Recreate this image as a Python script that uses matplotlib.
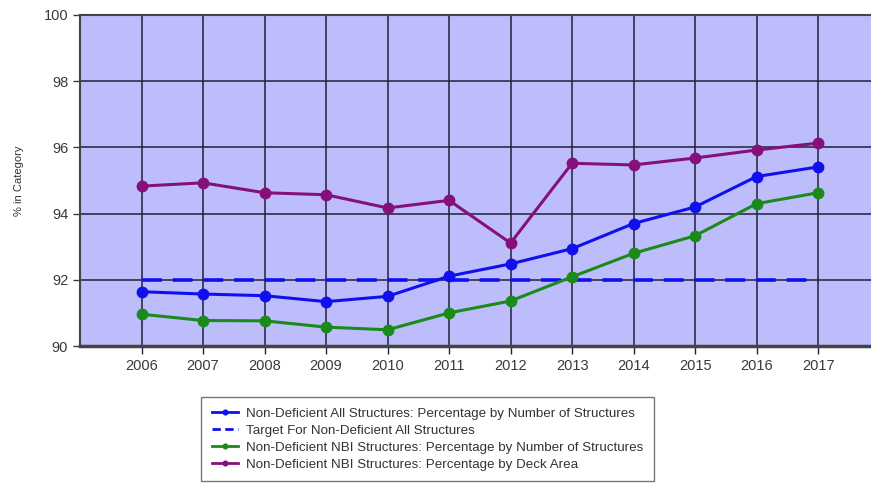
import numpy as np
import matplotlib
matplotlib.use("Agg")
import matplotlib.pyplot as plt

plt.rcParams['font.family'] = ['Liberation Sans', 'DejaVu Sans']

years = [2006, 2007, 2008, 2009, 2010, 2011, 2012, 2013, 2014, 2015, 2016, 2017]
all_by_number = [91.64, 91.57, 91.52, 91.34, 91.5, 92.11, 92.48, 92.94, 93.7, 94.2, 95.12, 95.41]
target = [92.0] * len(years)
nbi_by_number = [90.96, 90.77, 90.76, 90.57, 90.49, 91.0, 91.36, 92.09, 92.8, 93.33, 94.3, 94.63]
nbi_by_deck = [94.83, 94.93, 94.63, 94.57, 94.17, 94.4, 93.11, 95.52, 95.47, 95.68, 95.92, 96.13]

labels = ['Non-Deficient All Structures: Percentage by Number of Structures',
          'Target For Non-Deficient All Structures',
          'Non-Deficient NBI Structures: Percentage by Number of Structures',
          'Non-Deficient NBI Structures: Percentage by Deck Area']

fig = plt.figure(figsize=(8.71, 4.88), dpi=100)
ax = fig.add_axes([80/871, 1 - 346/488, 1 - 80/871, (346 - 15)/488])
ax.set_facecolor('#bdbdfc')

ax.plot(years, all_by_number, color='#1010ee', lw=2.2, marker='o', ms=7.5, label=labels[0], zorder=4)
ax.plot(years, target, color='#1010ee', lw=2.6, ls=(0, (5.5, 3)), label=labels[1], zorder=3)
ax.plot(years, nbi_by_number, color='#1a8a1a', lw=2.2, marker='o', ms=7.5, label=labels[2], zorder=4)
ax.plot(years, nbi_by_deck, color='#86107a', lw=2.2, marker='o', ms=7.5, label=labels[3], zorder=4)

ax.set_xlim(2005.0, 2017.86)
ax.set_ylim(90, 100)
ax.set_xticks(years)
ax.set_yticks(np.arange(90, 101, 2))
ax.grid(True, color='#202038', lw=1.1)
ax.set_axisbelow(True)
ax.tick_params(axis='both', labelsize=10.5, colors='#3a3a3a', length=5, width=1, direction='out')
ax.tick_params(axis='x', length=6, color='#202038')
for s in ['top', 'left']:
    ax.spines[s].set_color('#444444')
    ax.spines[s].set_linewidth(1.5)
ax.spines['bottom'].set_color('#444444')
ax.spines['bottom'].set_linewidth(2.5)
ax.spines['right'].set_visible(False)
ax.set_ylabel('% in Category', fontsize=8, color='#333333', labelpad=14)

leg = fig.legend(loc='upper left', bbox_to_anchor=(201/871, 1 - 397/488),
                 fontsize=9.6, frameon=True, fancybox=False, edgecolor='#555555',
                 labelspacing=0.34, handlelength=2.0, handletextpad=0.55,
                 borderpad=0.8, borderaxespad=0, markerscale=0.45)
leg.get_frame().set_linewidth(1.0)
for t in leg.get_texts():
    t.set_color('#333333')
for i, ln in enumerate(leg.get_lines()):
    ln.set_linewidth(2.0)
    if i == 1:
        ln.set_dashes([3, 1.6])

fig.savefig('out.png', dpi=100)
